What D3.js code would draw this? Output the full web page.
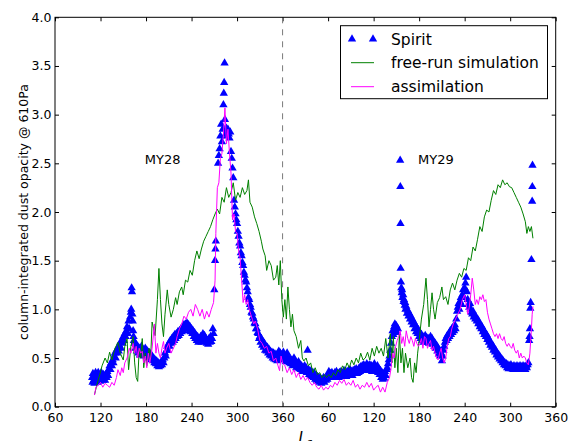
<!DOCTYPE html>
<html>
<head>
<meta charset="utf-8">
<script src="https://cdn.jsdelivr.net/npm/d3@7"></script>
<style>
  body { margin: 0; background: #fff; }
  text { font-family: "DejaVu Sans", sans-serif; }
</style>
</head>
<body>
<div class="chart"></div>
<script>
// Ls runs on past 360 into the second Mars year (MY29), labels wrap
const xTicks = [60, 120, 180, 240, 300, 360, 420, 480, 540, 600, 660, 720];
const yTicks = [0, 0.5, 1, 1.5, 2, 2.5, 3, 3.5, 4];
const seriesNames = ["Spirit", "free-run simulation", "assimilation"];
const yearLabels = [["MY28", 202], ["MY29", 562]];

const spirit = [
  [109,0.30],[109.5,0.25],[110,0.34],[111,0.27],[111.5,0.32],[112,0.24],[113,0.30],[113.5,0.35],[114,0.27],[115,0.32],
  [116,0.25],[116.5,0.30],[117,0.35],[118,0.28],[119,0.32],[119.5,0.26],[120,0.30],[121,0.35],[122,0.28],[123,0.32],
  [123.5,0.27],[124,0.33],[125,0.30],[126,0.27],[127,0.33],[128,0.30],[129,0.36],[130,0.32],[131,0.38],[132,0.42],
  [133,0.38],[134,0.45],[135,0.42],[136,0.48],[137,0.45],[138,0.52],[139,0.55],[140,0.50],[141,0.58],[142,0.55],
  [143,0.60],[144,0.57],[145,0.63],[146,0.66],[147,0.60],[148,0.68],[149,0.65],[150,0.72],[151,0.68],[152,0.75],
  [153,0.72],[154,0.78],[155,0.82],[156,0.75],[157,0.88],[158,0.80],[159,0.92],[160,0.97],[160.5,1.00],[161,1.22],
  [161.5,1.18],[162,0.95],[162.5,0.88],[163,0.78],[163.5,0.72],[164,0.68],[165,0.65],[166,0.60],[167,0.64],[168,0.57],
  [169,0.62],[170,0.55],[171,0.60],[172,0.53],[173,0.58],[174,0.62],[175,0.55],[176,0.58],[177,0.52],[178,0.57],
  [179,0.60],[180,0.54],[181,0.58],[182,0.52],[183,0.56],[184,0.50],[185,0.55],[186,0.52],[187,0.48],[188,0.52],
  [189,0.47],[190,0.50],[191,0.45],[192,0.48],[193,0.44],[194,0.47],[195,0.42],[196,0.45],[197,0.41],[198,0.44],
  [199,0.42],[200,0.46],[201,0.43],[202,0.48],[203,0.45],[204,0.50],[205,0.55],[206,0.52],[207,0.58],[208,0.62],
  [209,0.58],[210,0.65],[211,0.62],[212,0.68],[213,0.65],[214,0.70],[215,0.66],[216,0.72],[217,0.68],[218,0.74],
  [219,0.70],[220,0.75],[221,0.72],[222,0.77],[223,0.73],[224,0.78],[225,0.75],[226,0.80],[227,0.77],[228,0.82],
  [229,0.78],[230,0.84],[231,0.80],[232,0.85],[233,0.82],[234,0.86],[235,0.80],[236,0.84],[237,0.78],[238,0.82],
  [239,0.77],[240,0.80],[241,0.75],[242,0.78],[243,0.72],[244,0.76],[245,0.70],[246,0.73],[247,0.68],[248,0.72],
  [249,0.66],[250,0.70],[251,0.67],[252,0.72],[253,0.66],[254,0.70],[255,0.75],[256,0.70],[257,0.73],[258,0.67],
  [259,0.70],[260,0.65],[261,0.68],[262,0.64],[263,0.70],[264,0.66],[265,0.72],[266,0.67],[267,0.70],[268,0.80],
  [269,0.75],[270,1.20],[271,1.50],[271.5,1.62],[272,1.70],[275,2.50],[276,2.58],[277,2.65],[278,2.78],[279,2.90],
  [280,2.72],[281,2.85],[282,3.10],[282.5,3.22],[283,3.33],[283.5,3.53],[284,2.95],[285,2.80],[286,2.86],[287,2.78],
  [288,2.85],[289,2.80],[290,2.76],[291,2.82],[292,2.62],[293,2.55],[294,2.45],[295,2.35],[296,2.12],[297,2.05],
  [298,1.98],[299,1.92],[300,1.88],[301,1.80],[302,1.75],[303,1.68],[304,1.65],[305,1.58],[306,1.55],[307,1.48],
  [308,1.45],[309,1.38],[310,1.35],[311,1.30],[312,1.28],[313,1.22],[314,1.18],[315,1.12],[316,1.10],[317,1.05],
  [318,1.02],[319,0.97],[320,0.96],[321,0.92],[322,0.90],[323,0.86],[324,0.85],[325,0.80],[326,0.80],[327,0.76],
  [328,0.75],[329,0.70],[330,0.72],[331,0.66],[332,0.70],[333,0.63],[334,0.67],[335,0.61],[336,0.65],[337,0.58],
  [338,0.62],[339,0.57],[340,0.61],[341,0.55],[342,0.59],[343,0.53],[344,0.57],[345,0.52],[346,0.56],[347,0.50],
  [348,0.55],[349,0.49],[350,0.54],[351,0.48],[352,0.53],[353,0.47],[354,0.52],[355,0.57],[356,0.50],[357,0.55],
  [358,0.48],[359,0.53],[360,0.50],[361,0.56],[362,0.48],[363,0.52],[364,0.46],[365,0.51],[366,0.55],[367,0.47],
  [368,0.50],[369,0.45],[370,0.49],[371,0.44],[372,0.48],[373,0.42],[374,0.46],[375,0.50],[376,0.43],[377,0.47],
  [378,0.40],[379,0.44],[380,0.41],[381,0.46],[382,0.39],[383,0.43],[384,0.38],[385,0.42],[386,0.36],[387,0.40],
  [388,0.37],[389,0.42],[390,0.36],[391,0.40],[392,0.35],[393,0.58],[394,0.38],[395,0.33],[396,0.37],[397,0.32],
  [398,0.36],[399,0.31],[400,0.35],[401,0.30],[402,0.34],[403,0.28],[404,0.32],[405,0.27],[406,0.31],[407,0.26],
  [408,0.30],[409,0.25],[410,0.29],[411,0.24],[412,0.28],[413,0.26],[414,0.30],[415,0.25],[416,0.29],[417,0.27],
  [418,0.31],[419,0.28],[420,0.32],[421,0.36],[422,0.30],[423,0.34],[424,0.31],[425,0.35],[426,0.30],[427,0.33],
  [428,0.31],[429,0.35],[430,0.32],[431,0.36],[432,0.31],[433,0.34],[434,0.30],[435,0.35],[436,0.32],[437,0.36],
  [438,0.31],[439,0.34],[440,0.32],[441,0.37],[442,0.33],[443,0.35],[444,0.31],[445,0.36],[446,0.33],[447,0.37],
  [448,0.34],[449,0.38],[450,0.33],[451,0.36],[452,0.32],[453,0.37],[454,0.34],[455,0.38],[456,0.35],[457,0.39],
  [458,0.34],[459,0.37],[460,0.35],[461,0.40],[462,0.36],[463,0.41],[464,0.37],[465,0.42],[466,0.38],[467,0.43],
  [468,0.37],[469,0.41],[470,0.38],[471,0.44],[472,0.39],[473,0.42],[474,0.37],[475,0.43],[476,0.38],[477,0.42],
  [478,0.36],[479,0.41],[480,0.38],[481,0.44],[482,0.37],[483,0.40],[484,0.36],[485,0.42],[486,0.35],[487,0.39],
  [488,0.33],[489,0.37],[490,0.30],[491,0.35],[492,0.28],[493,0.33],[494,0.29],[495,0.36],[496,0.32],[497,0.38],
  [498,0.40],[499,0.44],[500,0.48],[501,0.52],[502,0.58],[503,0.65],[504,0.72],[505,0.78],[506,0.74],[507,0.82],
  [508,0.85],[509,0.78],[510,0.83],[511,0.76],[512,0.80],[515,2.53],[515.2,2.26],[515.4,1.88],[515.6,1.42],[516,1.28],
  [516.5,1.22],[517,1.17],[517.5,1.20],[518,1.12],[519,1.15],[519.5,1.08],[520,1.10],[521,1.04],[521.5,1.07],[522,1.00],
  [523,1.03],[524,0.96],[525,0.99],[526,0.93],[527,0.96],[528,0.90],[529,0.93],[530,0.87],[531,0.90],[532,0.84],
  [533,0.87],[534,0.80],[535,0.84],[536,0.77],[537,0.81],[538,0.75],[539,0.79],[540,0.72],[541,0.76],[542,0.70],
  [543,0.74],[544,0.68],[545,0.72],[546,0.66],[547,0.70],[548,0.73],[549,0.68],[550,0.71],[551,0.66],[552,0.70],
  [553,0.65],[554,0.69],[555,0.72],[556,0.66],[557,0.70],[558,0.64],[559,0.67],[560,0.62],[561,0.65],[562,0.60],
  [563,0.63],[564,0.57],[565,0.60],[566,0.54],[567,0.58],[568,0.52],[569,0.55],[570,0.47],[571,0.52],[572,0.58],
  [573,0.62],[574,0.66],[575,0.70],[576,0.68],[577,0.73],[578,0.70],[579,0.75],[580,0.72],[581,0.78],[582,0.74],
  [583,0.80],[584,0.76],[585,0.82],[586,0.78],[587,0.84],[588,0.80],[589,0.90],[590,0.98],[591,1.02],[592,1.06],
  [593,1.00],[594,1.08],[595,1.12],[596,1.05],[597,1.15],[598,1.20],[599,1.12],[600,1.22],[601,1.27],[602,1.33],
  [603,1.18],[604,1.10],[605,1.05],[606,1.02],[607,1.06],[608,1.00],[609,0.97],[610,0.95],[611,0.98],[612,0.92],
  [613,0.94],[614,0.90],[615,0.92],[616,0.88],[617,0.90],[618,0.85],[619,0.87],[620,0.82],[621,0.84],[622,0.80],
  [623,0.82],[624,0.77],[625,0.79],[626,0.74],[627,0.76],[628,0.72],[629,0.74],[630,0.69],[631,0.71],[632,0.66],
  [633,0.68],[634,0.63],[635,0.65],[636,0.61],[637,0.63],[638,0.58],[639,0.60],[640,0.56],[641,0.58],[642,0.53],
  [643,0.55],[644,0.51],[645,0.53],[646,0.49],[647,0.51],[648,0.47],[649,0.49],[650,0.45],[651,0.47],[652,0.43],
  [653,0.45],[654,0.42],[655,0.44],[656,0.40],[657,0.43],[658,0.39],[659,0.42],[660,0.40],[661,0.43],[662,0.39],
  [663,0.41],[664,0.38],[665,0.42],[666,0.39],[667,0.41],[668,0.38],[669,0.42],[670,0.39],[671,0.41],[672,0.38],
  [673,0.42],[674,0.39],[675,0.41],[676,0.38],[677,0.42],[678,0.39],[679,0.41],[680,0.38],[681,0.42],[682,0.40],
  [683,0.43],[684,0.45],[685,0.68],[685.5,0.72],[686,0.80],[686.5,1.01],[687,1.07],[688,1.51],[689,2.11],[689.2,2.26],
  [689.4,2.48]
];

const freeRun = [
  [112,0.12],[115,0.22],[119,0.33],[122,0.42],[126,0.50],[129,0.45],[132,0.56],[135,0.48],[139,0.60],[143,0.66],
  [146,0.55],[150,0.48],[152,0.62],[155,0.70],[157,0.38],[160,0.62],[163,0.72],[165,0.45],[167,0.30],[169,0.26],
  [171,0.60],[173,0.50],[175,0.70],[177,0.40],[179,0.55],[181,0.42],[184,0.60],[186,0.48],[188,0.87],[190,0.80],
  [192,0.73],[195,1.10],[197,1.42],[199,1.10],[201,0.85],[203,0.72],[205,0.95],[208,1.20],[210,1.05],[213,0.92],
  [216,1.00],[219,1.12],[221,1.05],[224,1.18],[227,1.23],[229,1.15],[232,1.30],[235,1.28],[238,1.40],[241,1.35],
  [244,1.50],[247,1.60],[250,1.52],[253,1.62],[256,1.70],[259,1.75],[262,1.80],[265,1.85],[268,1.92],[271,1.98],
  [274,2.03],[277,1.98],[280,2.15],[283,2.10],[286,2.25],[289,2.15],[292,2.20],[295,2.30],[298,2.12],[301,2.20],
  [304,2.15],[307,2.25],[310,2.18],[313,2.22],[315,2.33],[317,2.10],[320,2.05],[323,1.95],[326,1.88],[329,1.80],
  [332,1.70],[334,1.62],[337,1.55],[339,1.40],[342,1.50],[345,1.45],[348,1.30],[351,1.33],[353,1.45],[355,1.25],
  [357,1.50],[359,1.10],[361,0.92],[363,1.10],[365,0.90],[367,1.23],[369,1.00],[371,0.82],[373,0.95],[375,0.78],
  [378,0.72],[381,0.60],[384,0.68],[386,0.50],[388,0.47],[391,0.50],[394,0.42],[397,0.45],[400,0.35],[403,0.40],
  [406,0.33],[409,0.35],[412,0.30],[415,0.33],[418,0.30],[421,0.33],[424,0.30],[427,0.35],[430,0.32],[433,0.38],
  [436,0.35],[439,0.42],[442,0.38],[445,0.45],[448,0.40],[451,0.48],[454,0.43],[457,0.50],[460,0.45],[463,0.55],
  [466,0.48],[469,0.50],[472,0.56],[475,0.48],[478,0.60],[481,0.52],[484,0.62],[487,0.55],[490,0.60],[493,0.52],
  [496,0.70],[499,0.50],[502,0.75],[504,0.45],[506,0.72],[508,0.40],[510,0.60],[512,0.35],[514,0.75],[516,0.45],
  [518,0.60],[520,0.35],[522,0.55],[525,0.40],[528,0.50],[530,0.30],[532,0.25],[534,0.45],[536,0.35],[538,0.55],
  [540,0.68],[543,0.90],[546,1.05],[549,1.32],[551,1.10],[553,0.82],[555,1.00],[557,1.17],[559,1.00],[561,0.90],
  [564,1.07],[567,1.12],[570,1.23],[572,1.10],[575,1.13],[578,1.05],[581,1.20],[584,1.27],[587,1.20],[590,1.30],
  [593,1.37],[596,1.33],[599,1.42],[602,1.40],[605,1.53],[608,1.50],[611,1.64],[614,1.60],[617,1.72],[620,1.85],
  [623,1.80],[626,1.95],[629,2.02],[632,2.00],[635,2.12],[638,2.22],[641,2.18],[644,2.28],[647,2.25],[650,2.33],
  [653,2.28],[656,2.30],[659,2.26],[662,2.25],[665,2.20],[668,2.15],[671,2.10],[674,2.05],[677,1.98],[680,1.90],
  [682,1.78],[684,1.85],[686,1.80],[688,1.85],[690,1.73]
];

const assimilation = [
  [112,0.12],[114,0.20],[117,0.22],[120,0.25],[123,0.20],[126,0.24],[129,0.22],[132,0.20],[135,0.25],[138,0.22],
  [141,0.30],[143,0.38],[146,0.32],[148,0.40],[150,0.35],[152,0.45],[155,0.50],[158,0.60],[160,0.55],[163,0.65],
  [165,0.55],[167,0.62],[169,0.50],[171,0.60],[173,0.55],[175,0.57],[177,0.45],[179,0.52],[181,0.40],[183,0.55],
  [185,0.45],[188,0.60],[191,0.85],[193,0.55],[195,0.65],[197,0.55],[199,0.50],[201,0.60],[203,0.67],[205,0.55],
  [207,0.60],[210,0.65],[213,0.55],[216,0.60],[219,0.65],[221,0.72],[224,0.80],[227,0.85],[230,0.93],[233,0.90],
  [236,0.97],[239,1.00],[242,0.93],[245,1.05],[248,1.00],[251,0.93],[254,1.00],[257,0.90],[260,0.98],[263,0.92],
  [266,1.00],[269,1.07],[271,1.30],[272,1.78],[274,2.25],[276,2.30],[278,2.55],[280,2.60],[282,2.80],[284,3.07],
  [286,2.70],[288,2.85],[290,2.60],[292,2.40],[294,1.92],[296,1.98],[298,1.80],[300,1.78],[302,1.60],[304,1.53],
  [306,1.30],[308,1.07],[310,1.15],[312,1.05],[314,1.10],[316,1.00],[318,0.95],[320,0.90],[322,0.85],[324,0.88],
  [327,0.80],[330,0.68],[333,0.65],[336,0.60],[339,0.62],[342,0.55],[345,0.57],[348,0.47],[351,0.50],[354,0.42],
  [356,0.37],[358,0.52],[360,0.45],[363,0.42],[366,0.35],[369,0.40],[372,0.33],[375,0.38],[378,0.30],[381,0.35],
  [384,0.28],[387,0.32],[390,0.27],[393,0.30],[396,0.25],[399,0.22],[402,0.25],[405,0.20],[408,0.18],[411,0.22],
  [414,0.17],[417,0.20],[420,0.18],[423,0.22],[426,0.20],[429,0.25],[432,0.22],[435,0.27],[438,0.24],[441,0.28],
  [444,0.22],[447,0.25],[450,0.22],[453,0.27],[456,0.20],[459,0.23],[462,0.18],[465,0.22],[468,0.20],[471,0.25],
  [474,0.20],[477,0.24],[480,0.17],[483,0.20],[486,0.22],[489,0.15],[492,0.20],[495,0.15],[498,0.25],[501,0.30],
  [503,0.40],[505,0.55],[507,0.50],[509,0.62],[511,0.68],[513,0.72],[515,0.78],[517,0.65],[519,0.72],[521,0.62],
  [523,0.78],[525,0.70],[527,0.65],[529,0.72],[531,0.68],[533,0.62],[535,0.70],[537,0.65],[539,0.62],[541,0.65],
  [543,0.70],[545,0.60],[547,0.72],[549,0.70],[551,0.60],[553,0.65],[555,0.68],[557,0.58],[559,0.62],[561,0.55],
  [563,0.50],[565,0.48],[567,0.55],[569,0.60],[571,0.50],[573,0.45],[575,0.50],[577,0.62],[579,0.70],[581,0.72],
  [583,0.80],[585,0.85],[588,0.90],[591,0.95],[594,1.00],[597,1.10],[600,1.15],[602,1.05],[604,0.95],[606,1.02],
  [608,1.15],[610,1.32],[612,1.20],[614,1.05],[616,1.10],[618,1.05],[620,1.13],[622,1.10],[624,1.15],[626,1.08],
  [628,1.10],[630,0.97],[632,0.90],[634,0.85],[636,0.80],[638,0.75],[640,0.72],[642,0.75],[644,0.70],[646,0.75],
  [648,0.70],[650,0.68],[652,0.72],[654,0.65],[656,0.62],[658,0.65],[660,0.62],[662,0.60],[664,0.65],[666,0.58],
  [668,0.55],[670,0.58],[672,0.50],[674,0.55],[676,0.50],[678,0.52],[680,0.50],[682,0.45],[684,0.43],[686,0.55],
  [687,0.68],[688,0.80],[689,0.95],[690,1.03]
];

const width = 569, height = 441;
const margin = {left: 55, top: 17.3, right: 13.3, bottom: 34.3};
const plotW = width - margin.left - margin.right;
const plotH = height - margin.top - margin.bottom;

const svg = d3.select(".chart").append("svg")
    .attr("width", width)
    .attr("height", height);

const g = svg.append("g")
    .attr("transform", `translate(${margin.left},${margin.top})`);

const x = d3.scaleLinear().domain([60, 720]).range([0, plotW]);
const y = d3.scaleLinear().domain([0, 4]).range([plotH, 0]);

const lsFormat = d => (d % 360 === 0 ? 360 : d % 360);

// axes, ticks pointing inward like the matplotlib classic style
const styleAxis = sel => {
    sel.select(".domain").remove();
    sel.selectAll("line").attr("stroke", "#000");
    sel.selectAll("text").attr("font-size", 12.5).attr("fill", "#000")
        .attr("font-family", "DejaVu Sans");
};

g.append("g")
    .attr("transform", `translate(0,${plotH})`)
    .call(d3.axisBottom(x).tickValues(xTicks).tickFormat(lsFormat).tickSize(-4).tickPadding(6))
    .call(styleAxis);

g.append("g")
    .call(d3.axisTop(x).tickValues(xTicks).tickFormat("").tickSize(-4))
    .call(styleAxis);

g.append("g")
    .call(d3.axisLeft(y).tickValues(yTicks).tickFormat(d3.format(".1f")).tickSize(-4).tickPadding(3.5))
    .call(styleAxis);

g.append("g")
    .attr("transform", `translate(${plotW},0)`)
    .call(d3.axisRight(y).tickValues(yTicks).tickFormat("").tickSize(-4))
    .call(styleAxis);

// year boundary
g.append("line")
    .attr("x1", x(360)).attr("x2", x(360))
    .attr("y1", 0).attr("y2", plotH)
    .attr("stroke", "#7a7a7a")
    .attr("stroke-width", 1)
    .attr("stroke-dasharray", "6,6");

const triangle = d3.symbol().type(d3.symbolTriangle).size(30);

g.append("g").selectAll("path")
    .data(spirit)
    .enter().append("path")
    .attr("d", triangle)
    .attr("transform", d => `translate(${x(d[0])},${y(d[1])})`)
    .attr("fill", "#0000ff");

const line = d3.line().x(d => x(d[0])).y(d => y(d[1]));

g.append("path")
    .datum(freeRun)
    .attr("d", line)
    .attr("fill", "none")
    .attr("stroke", "#008000")
    .attr("stroke-width", 1);

g.append("path")
    .datum(assimilation)
    .attr("d", line)
    .attr("fill", "none")
    .attr("stroke", "#ff00ff")
    .attr("stroke-width", 1);

// frame
g.append("rect")
    .attr("width", plotW).attr("height", plotH)
    .attr("fill", "none")
    .attr("stroke", "#000")
    .attr("stroke-width", 1);

g.selectAll("text.year")
    .data(yearLabels)
    .enter().append("text")
    .attr("class", "year")
    .attr("x", d => x(d[1]))
    .attr("y", 164 - margin.top)
    .attr("text-anchor", "middle")
    .attr("font-size", 13)
    .text(d => d[0]);

// legend
let legend = svg.append("g").attr("transform", "translate(340.5,25.7)");

legend.append("rect")
    .attr("width", 207)
    .attr("height", 73)
    .attr("fill", "#fff")
    .attr("stroke", "#000")
    .attr("stroke-width", 1);

let rowY = [13.3, 37, 61];

[11.5, 32.5].forEach(function(dx) {
    legend.append("path")
        .attr("d", triangle)
        .attr("transform", `translate(${dx},${rowY[0]})`)
        .attr("fill", "#0000ff");
});

legend.append("line")
    .attr("x1", 10.5).attr("x2", 33.5)
    .attr("y1", rowY[1]).attr("y2", rowY[1])
    .attr("stroke", "#008000");

legend.append("line")
    .attr("x1", 10.5).attr("x2", 33.5)
    .attr("y1", rowY[2]).attr("y2", rowY[2])
    .attr("stroke", "#ff00ff");

legend.selectAll("text")
    .data(seriesNames)
    .enter().append("text")
    .attr("x", 50.5)
    .attr("y", function(d, i) { return rowY[i]; })
    .attr("dy", "0.36em")
    .attr("font-size", 15.5)
    .text(d => d);

// axis titles
svg.append("text")
    .attr("transform", `translate(27.5,${margin.top + plotH / 2}) rotate(-90)`)
    .attr("text-anchor", "middle")
    .attr("font-size", 12.5)
    .text("column-integrated dust opacity @ 610Pa");

// Ls label sits partly below the picture edge, as in the original figure
let xlab = svg.append("text")
    .attr("x", margin.left + plotW / 2)
    .attr("y", 443)
    .attr("text-anchor", "middle")
    .attr("font-family", "DejaVu Serif")
    .attr("font-style", "italic")
    .attr("font-size", 15);
xlab.append("tspan").text("L");
xlab.append("tspan").attr("dy", 3).attr("font-size", 10.5).text("s");
</script>
</body>
</html>
